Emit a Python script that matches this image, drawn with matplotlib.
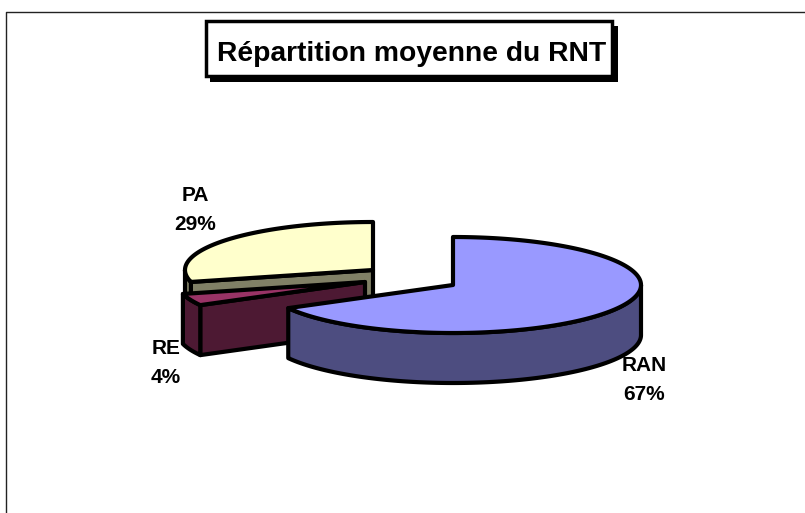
import numpy as np
import matplotlib
matplotlib.use("Agg")
import matplotlib.pyplot as plt
from matplotlib.patches import Polygon, Rectangle

categories = ["RAN", "RE", "PA"]
values = [67, 4, 29]
title = "Répartition moyenne du RNT"

top_colors = ["#9999FF", "#993366", "#FFFFCC"]
wall_colors = ["#4D4D80", "#4D1933", "#808066"]
centers = [(453, 285), (365, 282), (373, 270)]
label_pos = [(644, 380), (166, 363), (195, 210)]

RX, RY, DEPTH = 188, 48, 50
LW = 3.0

plt.rcParams["font.family"] = ["Liberation Sans", "DejaVu Sans"]
fig = plt.figure(figsize=(8.05, 5.13), dpi=100)
ax = fig.add_axes([0, 0, 1, 1])
ax.set_xlim(0, 805)
ax.set_ylim(513, 0)
ax.axis("off")

# chart frame, running off the right and bottom edges
ax.plot([6, 6, 805], [513, 12, 12], color="#222222", lw=1.0, zorder=1)


def rim(c, a0, a1, drop=0.0):
    t = np.radians(np.linspace(a0, a1, max(2, int(abs(a1 - a0)) * 2)))
    return np.column_stack([c[0] + RX * np.cos(t), c[1] - RY * np.sin(t) + drop])


def poly(points, color, z):
    ax.add_patch(Polygon(points, closed=True, facecolor=color, edgecolor="black",
                         lw=LW, joinstyle="round", zorder=z))


shares = np.array(values) / np.sum(values) * 360.0
ends = 90 - np.cumsum(shares)
starts = ends + shares
draw_order = [2, 1, 0]  # back to front

for z, i in enumerate(draw_order):
    c, a0, a1 = centers[i], starts[i], ends[i]
    base = 10 + z * 3
    # the cut face that looks towards the viewer
    if i != 0:
        p = rim(c, a0, a0)[0]
        poly([c, p, (p[0], p[1] + DEPTH), (c[0], c[1] + DEPTH)], wall_colors[i], base)
    # outer wall: only the part of the rim on the near side of the ellipse
    lo, hi = min(a0, a1), max(a0, a1)
    spans = []
    for s0, s1 in [(-180, 0), (180, 360)]:
        l, h = max(lo, s0), min(hi, s1)
        if h > l:
            spans.append((l, h))
    for l, h in spans:
        upper = rim(c, l, h)
        lower = rim(c, h, l, DEPTH)
        poly(np.vstack([upper, lower]), wall_colors[i], base + 1)
    # top face
    poly(np.vstack([[c], rim(c, a0, a1)]), top_colors[i], base + 2)

for name, v, (x, y) in zip(categories, values, label_pos):
    ax.text(x, y, f"{name}\n{v}%", ha="center", va="center", fontsize=15,
            fontweight="bold", color="black", linespacing=1.7, zorder=30)

# title box with hard shadow
ax.add_patch(Rectangle((210, 26), 408, 56, facecolor="black", edgecolor="none", zorder=20))
ax.add_patch(Rectangle((206, 21), 406, 55, facecolor="white", edgecolor="black",
                       lw=2.5, zorder=21))
ax.text(412, 54, title, ha="center", va="center", fontsize=20.3, fontweight="bold",
        color="black", zorder=22)

fig.savefig("out.png", dpi=100)
